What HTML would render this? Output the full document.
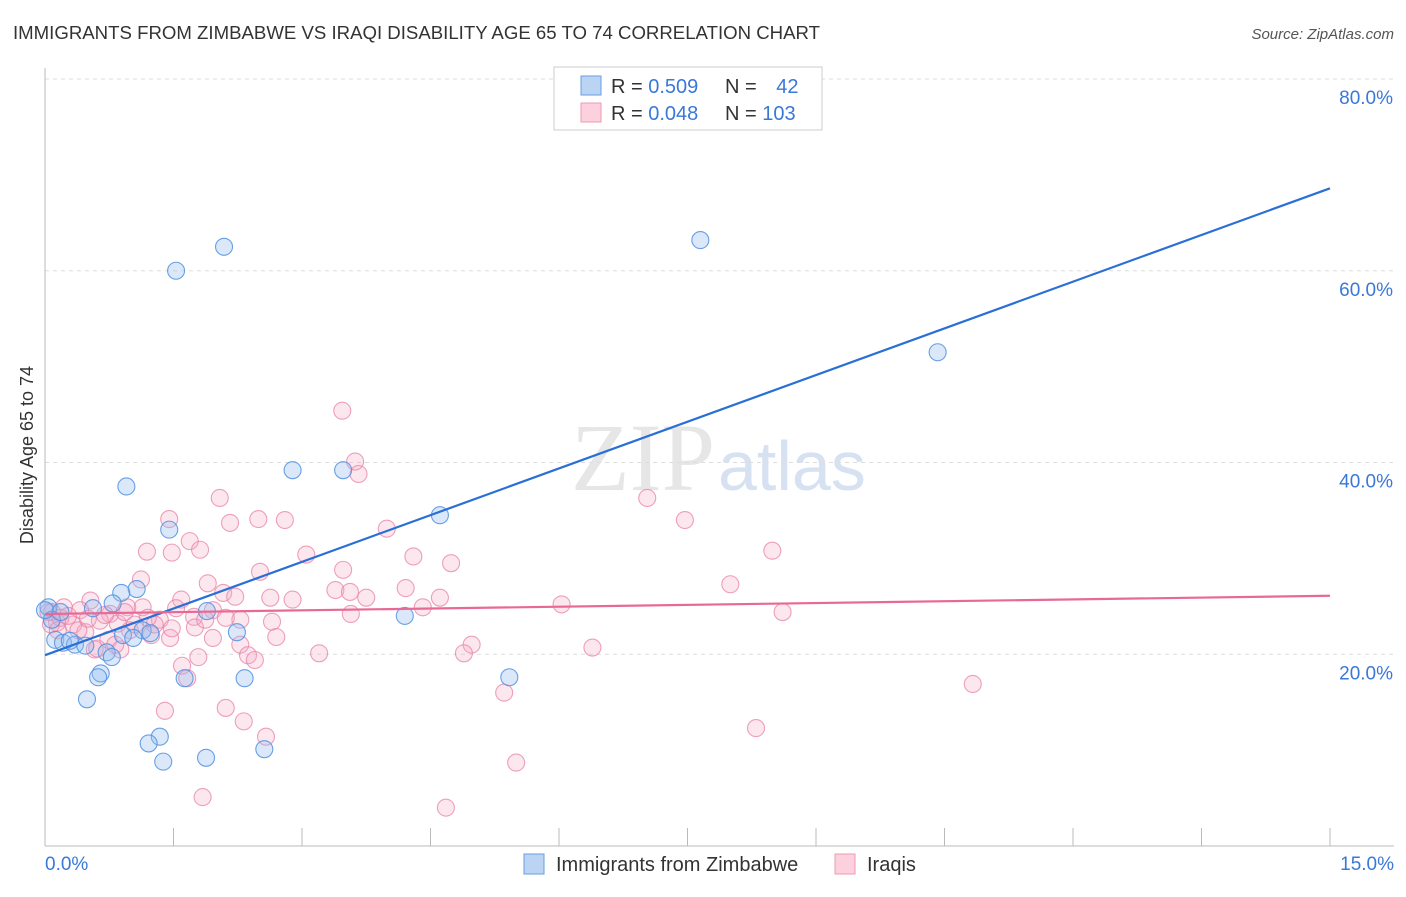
<!DOCTYPE html>
<html><head><meta charset="utf-8"><style>
body{margin:0;background:#fff;font-family:"Liberation Sans",sans-serif}
</style></head><body>
<svg width="1406" height="892" xmlns="http://www.w3.org/2000/svg" id="chart" style="font-family:'Liberation Sans',sans-serif">
<text x="13" y="39" font-size="18" fill="#333" textLength="807" lengthAdjust="spacingAndGlyphs">IMMIGRANTS FROM ZIMBABWE VS IRAQI DISABILITY AGE 65 TO 74 CORRELATION CHART</text>
<text x="1394" y="39" font-size="15" fill="#555" font-style="italic" text-anchor="end">Source: ZipAtlas.com</text>
<text x="715" y="490" font-size="96" fill="#e6e6e6" text-anchor="end" font-family="Liberation Serif,serif">ZIP</text>
<text x="718" y="490" font-size="70" fill="#d6e2f2">atlas</text>
<g id="grid"></g><g id="axes"></g><g id="pts"></g><g id="lines"></g>
<text x="33" y="455" font-size="18" fill="#333" text-anchor="middle" transform="rotate(-90 33 455)">Disability Age 65 to 74</text>
<text x="45" y="870" font-size="19" fill="#3a78d8">0.0%</text>
<text x="1394" y="870" font-size="19" fill="#3a78d8" text-anchor="end">15.0%</text>
<g>
<rect x="554" y="67" width="268" height="63" fill="#fff" stroke="#ccc"/>
<rect x="581" y="76" width="20" height="19" fill="#bcd4f4" stroke="#6a9ee0"/>
<rect x="581" y="103" width="20" height="19" fill="#fcd0dc" stroke="#ee9ab4"/>
<text x="611" y="93" font-size="20" fill="#333">R = <tspan fill="#3a78d8">0.509</tspan></text>
<text x="725" y="93" font-size="20" fill="#333">N = <tspan fill="#3a78d8" dx="14">42</tspan></text>
<text x="611" y="120" font-size="20" fill="#333">R = <tspan fill="#3a78d8">0.048</tspan></text>
<text x="725" y="120" font-size="20" fill="#333">N = <tspan fill="#3a78d8">103</tspan></text>
</g>
<g>
<rect x="524" y="854" width="20" height="20" fill="#bcd4f4" stroke="#6a9ee0"/>
<text x="556" y="871" font-size="20" fill="#333">Immigrants from Zimbabwe</text>
<rect x="835" y="854" width="20" height="20" fill="#fcd0dc" stroke="#ee9ab4"/>
<text x="867" y="871" font-size="20" fill="#333">Iraqis</text>
</g>
</svg>
<script>
const yTicks=[20,40,60,80];
const yTickLabels=["20.0%","40.0%","60.0%","80.0%"];
const xTicks=[0,1.5,3,4.5,6,7.5,9,10.5,12,13.5,15];
const blueX=[2.09,1.53,7.65,10.42,2.89,3.48,0.95,4.61,1.45,1.07,0.89,0.79,0.56,1.89,4.20,0.04,0.08,2.24,1.14,0.91,1.03,0.12,0.21,0.35,0.47,0.72,0.78,0.65,0.62,1.63,2.33,5.42,0.49,1.34,1.21,2.56,1.88,1.38,0,0.18,0.29,1.23];
const blueY=[62.5,60.0,63.2,51.5,39.2,39.2,37.5,34.5,33.0,26.8,26.4,25.3,24.8,24.5,24.0,24.9,23.6,22.3,22.5,22.0,21.7,21.5,21.2,21.0,20.9,20.2,19.7,18.0,17.6,17.5,17.5,17.6,15.3,11.4,10.7,10.1,9.2,8.8,24.6,24.4,21.4,22.2];
const pinkX=[3.47,3.62,3.66,7.03,2.04,7.47,1.45,2.49,2.80,2.16,3.99,1.69,1.81,1.19,1.48,3.05,4.30,8.49,4.74,3.48,2.51,1.12,1.90,8.00,4.21,3.39,3.56,3.75,2.08,2.22,1.59,2.63,0.53,4.61,6.03,0.96,1.14,1.96,1.53,4.41,3.57,8.61,0.22,0.41,0.08,0.76,1.74,2.28,1.34,1.20,0.64,0.33,0.85,2.65,0.14,1.75,0.99,0.47,1.46,1.96,2.70,1.24,0.74,2.28,0.58,0.88,4.98,3.20,4.89,6.39,2.37,1.79,2.45,1.60,1.66,10.83,5.36,2.11,1.40,2.32,8.30,2.58,5.50,1.84,4.68,0.04,0.07,0.18,0.27,0.39,0.50,0.70,0.93,1.05,1.28,1.48,0.82,0.61,0.15,1.87,2.11,2.89];
const pinkY=[45.4,40.1,38.8,36.3,36.3,34.0,34.1,34.1,34.0,33.7,33.1,31.8,30.9,30.7,30.6,30.4,30.2,30.8,29.5,28.8,28.6,27.8,27.4,27.3,26.9,26.7,26.5,25.9,26.4,26.0,25.7,25.9,25.6,25.9,25.2,24.9,24.9,24.6,24.8,24.9,24.2,24.4,24.9,24.6,24.4,24.2,23.9,23.6,23.6,23.8,23.5,23.1,23.2,23.4,23.3,22.8,22.5,22.3,21.7,21.7,21.8,22.0,21.5,21.0,20.5,20.5,21.0,20.1,20.1,20.7,19.9,19.7,19.4,18.8,17.5,16.9,16.0,14.4,14.1,13.0,12.3,11.4,8.7,5.1,4.0,24.4,23.1,23.8,24.0,22.5,23.7,24.1,24.4,23.1,23.1,22.7,21.0,20.6,22.5,23.6,23.8,25.7];
const blueLine=[19.9,68.6];
const pinkLine=[24.2,26.1];
const X=v=>45+v/15*1285, Y=v=>846-v*767/80;
const NS="http://www.w3.org/2000/svg";
function mk(t,a,p){const e=document.createElementNS(NS,t);for(const k in a)e.setAttribute(k,a[k]);document.getElementById(p).appendChild(e);return e;}
yTicks.forEach((t,i)=>{
 const g=mk('line',{x1:45,x2:1394,y1:Y(t),y2:Y(t),stroke:'#ddd','stroke-dasharray':'4 4'},'grid');
 
 
 const l=mk('text',{x:1393,y:Y(t)+25,'font-size':19,fill:'#3a78d8','text-anchor':'end'},'grid');
 l.textContent=yTickLabels[i];
 
 
});
const ax=mk('line',{x1:45,x2:45,y1:68,y2:846,stroke:'#bbb'},'axes');


const bx=mk('line',{x1:45,x2:1394,y1:846,y2:846,stroke:'#bbb'},'axes');


xTicks.forEach(t=>{const e=mk('line',{x1:X(t),x2:X(t),y1:828,y2:846,stroke:'#bbb'},'axes');
 
 });
pinkX.forEach((x,i)=>{const c=mk('circle',{cx:X(x),cy:Y(pinkY[i]),r:8.5,fill:'rgba(246,170,196,0.28)',stroke:'rgba(232,130,165,0.75)','stroke-width':1.1},'pts');
 
 });
blueX.forEach((x,i)=>{const c=mk('circle',{cx:X(x),cy:Y(blueY[i]),r:8.5,fill:'rgba(150,190,240,0.35)',stroke:'rgba(80,145,225,0.85)','stroke-width':1.1},'pts');
 
 });
const bl=mk('line',{x1:X(0),y1:Y(blueLine[0]),x2:X(15),y2:Y(blueLine[1]),stroke:'#2a6fd6','stroke-width':2.2},'lines');


const pl=mk('line',{x1:X(0),y1:Y(pinkLine[0]),x2:X(15),y2:Y(pinkLine[1]),stroke:'#e86a94','stroke-width':2.2},'lines');


</script>
</body></html>
